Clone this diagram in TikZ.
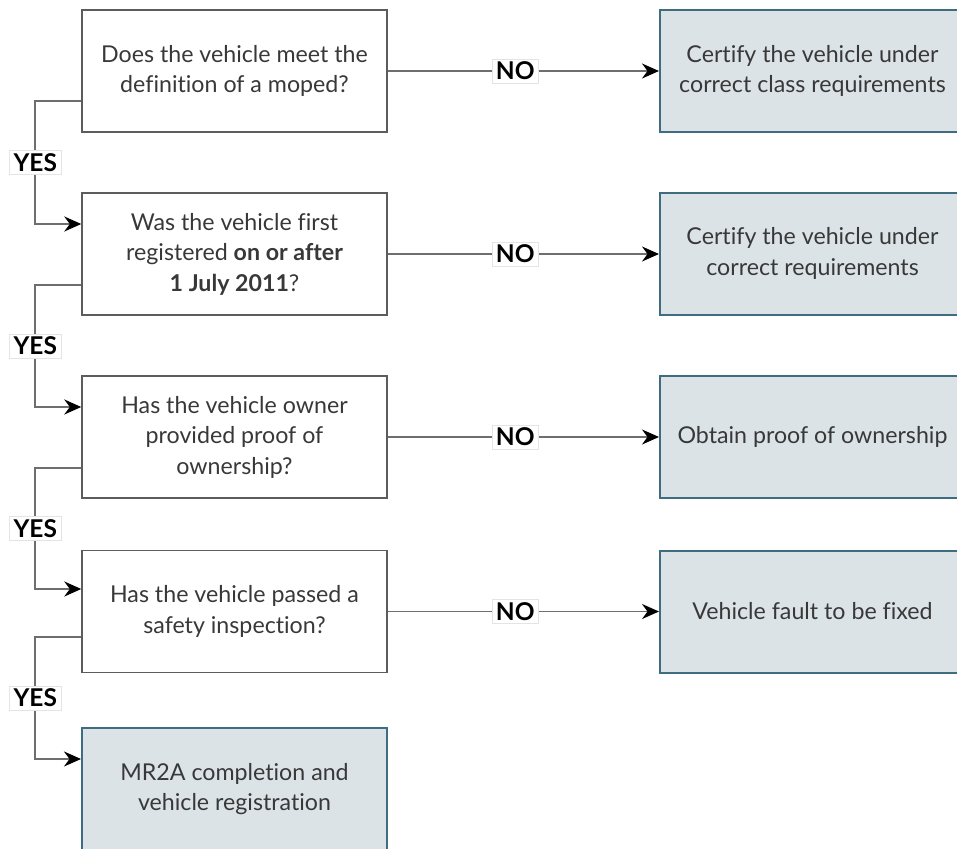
\documentclass[tikz,border=0pt]{standalone}
\usepackage{fontspec}
\setmainfont{Lato}[Ligatures=NoCommon]
\usetikzlibrary{arrows.meta}
\definecolor{qline}{HTML}{5C5C5C}
\definecolor{rline}{HTML}{3E6C80}
\definecolor{rfill}{HTML}{DCE3E7}
\definecolor{txt}{HTML}{383838}
\definecolor{conncol}{HTML}{6E6E6E}
\definecolor{labline}{HTML}{E4E4E4}
\tikzset{
  qbox/.style={draw=qline, line width=1.4pt, minimum width=305pt, minimum height=122pt,
    inner sep=0pt, align=center, text=txt, font=\fontsize{23.2}{30.5}\selectfont},
  rbox/.style={qbox, draw=rline, line width=2pt, fill=rfill},
  conn/.style={draw=conncol, line width=1.8pt, -{Stealth[length=17pt,width=15pt,color=black]}},
  lab/.style={fill=white, draw=labline, line width=0.6pt, inner xsep=4pt, inner ysep=3pt,
    text=black, font=\fontsize{24.5}{28}\bfseries\selectfont},
}
\begin{document}
\begin{tikzpicture}[x=1pt,y=-1pt]
\useasboundingbox (0,0) rectangle (957,848);
\clip (0,0) rectangle (957,848);
\node[qbox] (q1) at (234.5,71) {Does the vehicle meet the\\definition of a moped?};
\node[qbox] (q2) at (234.5,254) {Was the vehicle first\\registered \textbf{on or after}\\\textbf{1 July 2011}?};
\node[qbox] (q3) at (234.5,437) {Has the vehicle owner\\provided proof of\\ownership?};
\node[qbox] (q4) at (234.5,611.5) {Has the vehicle passed a\\safety inspection?};
\node[rbox] (q5) at (234.5,789) {MR2A completion and\\vehicle registration};
\node[rbox] (r1) at (812.5,71) {Certify the vehicle under\\correct class requirements};
\node[rbox] (r2) at (812.5,254) {\raisebox{8pt}{\begin{tabular}{@{}c@{}}Certify the vehicle under\\correct requirements\end{tabular}}};
\node[rbox] (r3) at (812.5,437) {Obtain proof of ownership};
\node[rbox] (r4) at (812.5,611.5) {Vehicle fault to be fixed};
\foreach \i in {1,2,3,4}{
  \draw[conn] (q\i.east) -- node[lab, pos=0.47]{NO} (r\i.west);
}
\draw[conn] ([yshift=-30pt]q1.west) -- ++(-46,0) |- node[lab, pos=0.25]{YES} ([yshift=30pt]q2.west);
\draw[conn] ([yshift=-31pt]q2.west) -- ++(-46,0) |- node[lab, pos=0.25]{YES} ([yshift=30pt]q3.west);
\draw[conn] ([yshift=-31pt]q3.west) -- ++(-46,0) |- node[lab, pos=0.25]{YES} ([yshift=22.5pt]q4.west);
\draw[conn] ([yshift=-25.5pt]q4.west) -- ++(-46,0) |- node[lab, pos=0.25]{YES} ([yshift=30pt]q5.west);
\end{tikzpicture}
\end{document}
